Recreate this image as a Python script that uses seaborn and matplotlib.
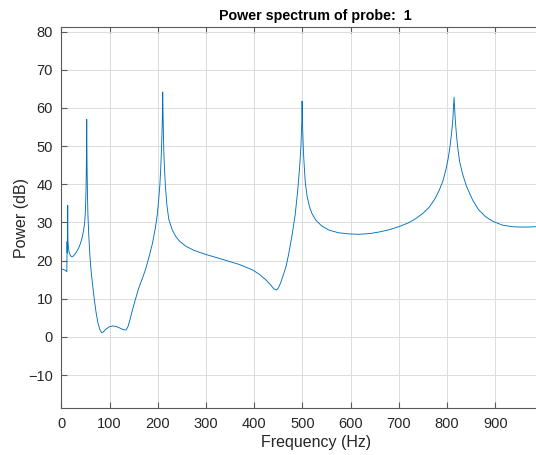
import numpy as np
import pandas as pd
import seaborn as sns
import matplotlib
matplotlib.use("Agg")
import matplotlib.pyplot as plt

# Valores (frequência em Hz, potência em dB)
freq_hz = [0, 5, 9, 11.5, 12, 12.5, 13.3, 13.7, 14.2, 16, 18.5, 21.5, 25, 29, 33,
           37, 40, 43, 46, 48.5, 50, 51.2, 52, 52.7, 53.4, 54.2, 55.2, 57, 59.5,
           62, 65, 68, 72, 76, 80, 84, 87, 92, 100, 107, 115, 122, 129, 134, 138,
           143, 148, 154, 160, 168, 175, 182, 189, 195, 199, 202, 204.5, 206.5, 208.3,
           209.5, 210.3, 211.2, 212.5, 214, 216, 219, 223, 230, 237, 245, 258, 275,
           300, 330, 369, 396, 410, 424, 435, 441, 446, 450, 455, 461, 466, 472,
           479, 485, 490, 494, 497, 498.7, 499.4, 500.5, 502, 503.5, 506, 510, 515,
           520, 528, 540, 555, 575, 597, 618, 640, 659, 680, 700, 720, 735, 750,
           763, 775, 784, 791, 797, 802, 806, 809.5, 812, 814.5, 817, 819.5, 822,
           826, 832, 840, 853, 865, 880, 895, 915, 935, 950, 965, 983, 1000]
power_db = [17.8, 17.7, 17.4, 17.1, 25, 22, 34.5, 26, 24.3, 22.3, 21.4, 21.0, 21.2,
            21.8, 22.6, 23.6, 24.6, 25.9, 27.8, 30, 33, 38, 45, 57, 45, 38, 32,
            26.5, 21, 17, 13.5, 10.3, 6.5, 3.7, 1.9, 1.1, 1.3, 2.0, 2.7, 2.9, 2.7,
            2.3, 1.9, 1.8, 2.6, 4.8, 7.3, 10, 12.6, 15.3, 17.8, 21, 24.5, 28.5, 32, 36,
            40, 45, 51, 57, 64.2, 57, 49, 44, 39.5, 34.5, 30.8, 28.1, 26.4, 25.1,
            23.8, 22.7, 21.6, 20.5, 19, 17.6, 16.5, 15, 13.5, 12.6, 12.3, 12.8,
            14.2, 16.5, 18.4, 22, 27, 32, 38, 44, 50, 56, 61.8, 55, 49, 45.5, 40.5,
            36.7, 34, 32.3, 30.6, 29.1, 28, 27.3, 27, 26.9, 27.1, 27.5, 28.1, 28.9,
            29.9, 31, 32.4, 34, 36.2, 38.5, 40.7, 43.5, 46.5, 49.8, 53.5, 57, 62.8,
            57, 53, 49.8, 46, 42.8, 39.6, 35.9, 33.4, 31.5, 30.3, 29.3, 28.9, 28.8,
            28.8, 28.9, 28.9]
x_ticks = [0, 100, 200, 300, 400, 500, 600, 700, 800, 900]
y_ticks = [-10, 0, 10, 20, 30, 40, 50, 60, 70, 80]

df = pd.DataFrame({"freq": freq_hz, "power": power_db})

sns.set_theme(style="whitegrid")
plt.rcParams['font.family'] = ['Liberation Sans', 'DejaVu Sans']

fig = plt.figure(figsize=(5.36, 4.55), dpi=100)
ax = fig.add_axes([61.3 / 536, 0.1026, (570 - 61.3) / 536, 0.8387])

sns.lineplot(data=df, x="freq", y="power", ax=ax, color="#0072BD", linewidth=0.65)

ax.set_xlim(0, 1055)
ax.set_ylim(-18.7, 81.3)
ax.set_xticks(x_ticks)
ax.set_yticks(y_ticks)

# estilo parecido com MATLAB
ax.grid(True, color="#dcdcdc", linewidth=0.7)
for side in ["left", "bottom", "top", "right"]:
    ax.spines[side].set_visible(True)
    ax.spines[side].set_color("#5a5a5a")
    ax.spines[side].set_linewidth(0.8)
ax.tick_params(direction="in", length=4, width=0.8, color="#5a5a5a",
               labelsize=10.5, labelcolor="#262626", top=True, right=True,
               left=True, bottom=True, pad=6)

ax.set_title("Power spectrum of probe:  1", fontsize=10.3, fontweight="bold",
             color="black", pad=5)
ax.set_xlabel("Frequency (Hz)", fontsize=11.5, color="#262626", labelpad=3)
ax.set_ylabel("Power (dB)", fontsize=11.5, color="#262626", labelpad=-0.5)

fig.savefig("out.png", dpi=100)
